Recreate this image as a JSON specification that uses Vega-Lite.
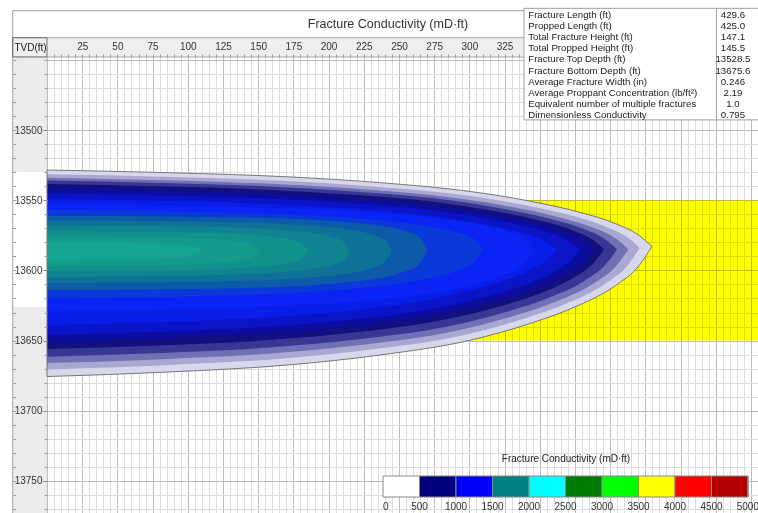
{
  "$schema": "https://vega.github.io/schema/vega-lite/v6.json",
  "width": 711,
  "height": 456,
  "autosize": {"type": "none"},
  "padding": {"left": 47, "top": 57, "right": 0, "bottom": 0},
  "background": "white",
  "config": {"view": {"stroke": null}, "font": "Liberation Sans"},
  "datasets": {
    "contours": [
      {"c":0,"x":0,"top":13528.5,"bottom":13675.6},{"c":0,"x":85.9,"top":13530.4,"bottom":13672.4},{"c":0,"x":171.8,"top":13533.4,"bottom":13667.3},{"c":0,"x":236.3,"top":13537.5,"bottom":13660.3},{"c":0,"x":300.7,"top":13543.8,"bottom":13649.7},{"c":0,"x":343.7,"top":13550.8,"bottom":13637.6},{"c":0,"x":378,"top":13558.5,"bottom":13624.7},{"c":0,"x":403.8,"top":13566.7,"bottom":13610.8},{"c":0,"x":421,"top":13575.4,"bottom":13596},{"c":0,"x":429.6,"top":13583,"bottom":13583},
      {"c":150,"x":0,"top":13531.5,"bottom":13670.5},{"c":150,"x":84.2,"top":13533.3,"bottom":13667.5},{"c":150,"x":168.4,"top":13536.2,"bottom":13662.7},{"c":150,"x":231.6,"top":13540.2,"bottom":13656.2},{"c":150,"x":294.7,"top":13546.2,"bottom":13646.3},{"c":150,"x":336.8,"top":13553,"bottom":13635},{"c":150,"x":370.5,"top":13560.4,"bottom":13622.9},{"c":150,"x":395.7,"top":13568.3,"bottom":13610},{"c":150,"x":412.6,"top":13576.7,"bottom":13596.1},{"c":150,"x":421,"top":13584,"bottom":13584},
      {"c":300,"x":0,"top":13534,"bottom":13666},{"c":300,"x":82.6,"top":13535.8,"bottom":13663.2},{"c":300,"x":165.2,"top":13538.6,"bottom":13658.7},{"c":300,"x":227.2,"top":13542.4,"bottom":13652.6},{"c":300,"x":289.1,"top":13548.3,"bottom":13643.3},{"c":300,"x":330.4,"top":13554.9,"bottom":13632.8},{"c":300,"x":363.4,"top":13562.1,"bottom":13621.5},{"c":300,"x":388.2,"top":13569.7,"bottom":13609.3},{"c":300,"x":404.7,"top":13577.9,"bottom":13596.3},{"c":300,"x":413,"top":13585,"bottom":13585},
      {"c":420,"x":0,"top":13536,"bottom":13661.5},{"c":420,"x":81,"top":13537.7,"bottom":13658.8},{"c":420,"x":162,"top":13540.4,"bottom":13654.6},{"c":420,"x":222.8,"top":13544.1,"bottom":13648.9},{"c":420,"x":283.5,"top":13549.7,"bottom":13640.1},{"c":420,"x":324,"top":13556.1,"bottom":13630.1},{"c":420,"x":356.4,"top":13563,"bottom":13619.4},{"c":420,"x":380.7,"top":13570.3,"bottom":13608},{"c":420,"x":396.9,"top":13578.1,"bottom":13595.7},{"c":420,"x":405,"top":13585,"bottom":13585},
      {"c":520,"x":0,"top":13538.5,"bottom":13656},{"c":520,"x":79.2,"top":13540.1,"bottom":13653.5},{"c":520,"x":158.4,"top":13542.7,"bottom":13649.6},{"c":520,"x":217.8,"top":13546.2,"bottom":13644.3},{"c":520,"x":277.2,"top":13551.5,"bottom":13636.1},{"c":520,"x":316.8,"top":13557.6,"bottom":13626.9},{"c":520,"x":348.5,"top":13564.1,"bottom":13617},{"c":520,"x":372.2,"top":13571.1,"bottom":13606.3},{"c":520,"x":388.1,"top":13578.5,"bottom":13594.9},{"c":520,"x":396,"top":13585,"bottom":13585},
      {"c":650,"x":0,"top":13541.5,"bottom":13651},{"c":650,"x":77.8,"top":13543,"bottom":13648.7},{"c":650,"x":155.6,"top":13545.4,"bottom":13645.1},{"c":650,"x":214,"top":13548.7,"bottom":13640.1},{"c":650,"x":272.3,"top":13553.7,"bottom":13632.5},{"c":650,"x":311.2,"top":13559.3,"bottom":13623.9},{"c":650,"x":342.3,"top":13565.4,"bottom":13614.7},{"c":650,"x":365.7,"top":13572,"bottom":13604.8},{"c":650,"x":381.2,"top":13578.9,"bottom":13594.2},{"c":650,"x":389,"top":13585,"bottom":13585},
      {"c":800,"x":0,"top":13545,"bottom":13646},{"c":800,"x":75.8,"top":13546.4,"bottom":13643.9},{"c":800,"x":151.6,"top":13548.6,"bottom":13640.5},{"c":800,"x":208.5,"top":13551.6,"bottom":13635.9},{"c":800,"x":265.3,"top":13556.2,"bottom":13628.9},{"c":800,"x":303.2,"top":13561.4,"bottom":13621},{"c":800,"x":333.5,"top":13567,"bottom":13612.5},{"c":800,"x":356.3,"top":13573,"bottom":13603.3},{"c":800,"x":371.4,"top":13579.4,"bottom":13593.5},{"c":800,"x":379,"top":13585,"bottom":13585},
      {"c":950,"x":0,"top":13549,"bottom":13639},{"c":950,"x":72.4,"top":13550.3,"bottom":13637.1},{"c":950,"x":144.8,"top":13552.2,"bottom":13634.1},{"c":950,"x":199.1,"top":13554.9,"bottom":13630.1},{"c":950,"x":253.4,"top":13559.1,"bottom":13623.9},{"c":950,"x":289.6,"top":13563.8,"bottom":13616.9},{"c":950,"x":318.6,"top":13568.8,"bottom":13609.3},{"c":950,"x":340.3,"top":13574.2,"bottom":13601.2},{"c":950,"x":354.8,"top":13580,"bottom":13592.6},{"c":950,"x":362,"top":13585,"bottom":13585},
      {"c":1080,"x":0,"top":13553,"bottom":13629},{"c":1080,"x":69,"top":13553.6,"bottom":13628.1},{"c":1080,"x":138,"top":13554.9,"bottom":13626.4},{"c":1080,"x":189.8,"top":13556.5,"bottom":13624.2},{"c":1080,"x":241.5,"top":13559.4,"bottom":13620.2},{"c":1080,"x":276,"top":13562.6,"bottom":13615.8},{"c":1080,"x":303.6,"top":13566.4,"bottom":13610.5},{"c":1080,"x":324.3,"top":13571.2,"bottom":13603.9},{"c":1080,"x":338.1,"top":13577,"bottom":13596},{"c":1080,"x":345,"top":13585,"bottom":13585},
      {"c":1200,"x":0,"top":13557,"bottom":13620},{"c":1200,"x":62,"top":13557.6,"bottom":13619.3},{"c":1200,"x":124,"top":13558.7,"bottom":13617.9},{"c":1200,"x":170.5,"top":13560.1,"bottom":13616.2},{"c":1200,"x":217,"top":13562.6,"bottom":13613},{"c":1200,"x":248,"top":13565.4,"bottom":13609.5},{"c":1200,"x":272.8,"top":13568.8,"bottom":13605.3},{"c":1200,"x":291.4,"top":13573,"bottom":13600.1},{"c":1200,"x":303.8,"top":13578,"bottom":13593.8},{"c":1200,"x":310,"top":13585,"bottom":13585},
      {"c":1300,"x":0,"top":13561,"bottom":13614},{"c":1300,"x":54,"top":13561.2,"bottom":13613.7},{"c":1300,"x":108,"top":13561.7,"bottom":13613.1},{"c":1300,"x":148.5,"top":13562.4,"bottom":13612.3},{"c":1300,"x":189,"top":13563.9,"bottom":13610.5},{"c":1300,"x":216,"top":13565.8,"bottom":13608.2},{"c":1300,"x":237.6,"top":13568.2,"bottom":13605.3},{"c":1300,"x":253.8,"top":13571.8,"bottom":13601},{"c":1300,"x":264.6,"top":13576.6,"bottom":13595.2},{"c":1300,"x":270,"top":13585,"bottom":13585},
      {"c":1400,"x":0,"top":13564.5,"bottom":13609},{"c":1400,"x":49,"top":13564.7,"bottom":13608.8},{"c":1400,"x":98,"top":13565.1,"bottom":13608.3},{"c":1400,"x":134.8,"top":13565.8,"bottom":13607.6},{"c":1400,"x":171.5,"top":13567.1,"bottom":13606.2},{"c":1400,"x":196,"top":13568.8,"bottom":13604.4},{"c":1400,"x":215.6,"top":13571,"bottom":13602.1},{"c":1400,"x":230.3,"top":13574.2,"bottom":13598.7},{"c":1400,"x":240.1,"top":13578.5,"bottom":13594.1},{"c":1400,"x":245,"top":13586,"bottom":13586},
      {"c":1500,"x":0,"top":13568,"bottom":13604.5},{"c":1500,"x":43,"top":13568.2,"bottom":13604.3},{"c":1500,"x":86,"top":13568.5,"bottom":13603.9},{"c":1500,"x":118.3,"top":13569.1,"bottom":13603.4},{"c":1500,"x":150.5,"top":13570.2,"bottom":13602.3},{"c":1500,"x":172,"top":13571.6,"bottom":13600.8},{"c":1500,"x":189.2,"top":13573.4,"bottom":13599},{"c":1500,"x":202.1,"top":13576.1,"bottom":13596.2},{"c":1500,"x":210.7,"top":13579.7,"bottom":13592.5},{"c":1500,"x":215,"top":13586,"bottom":13586},
      {"c":1600,"x":0,"top":13572,"bottom":13600.5},{"c":1600,"x":37,"top":13572.1,"bottom":13600.4},{"c":1600,"x":74,"top":13572.4,"bottom":13600.1},{"c":1600,"x":101.8,"top":13572.8,"bottom":13599.6},{"c":1600,"x":129.5,"top":13573.7,"bottom":13598.8},{"c":1600,"x":148,"top":13574.8,"bottom":13597.6},{"c":1600,"x":162.8,"top":13576.2,"bottom":13596.2},{"c":1600,"x":173.9,"top":13578.3,"bottom":13594},{"c":1600,"x":181.3,"top":13581.1,"bottom":13591.1},{"c":1600,"x":185,"top":13586,"bottom":13586},
      {"c":1700,"x":0,"top":13576,"bottom":13597},{"c":1700,"x":30,"top":13576.1,"bottom":13596.9},{"c":1700,"x":60,"top":13576.3,"bottom":13596.7},{"c":1700,"x":82.5,"top":13576.6,"bottom":13596.3},{"c":1700,"x":105,"top":13577.2,"bottom":13595.7},{"c":1700,"x":120,"top":13578,"bottom":13594.8},{"c":1700,"x":132,"top":13579,"bottom":13593.7},{"c":1700,"x":141,"top":13580.5,"bottom":13592.1},{"c":1700,"x":147,"top":13582.5,"bottom":13589.9},{"c":1700,"x":150,"top":13586,"bottom":13586},
      {"c":1780,"x":0,"top":13580,"bottom":13593},{"c":1780,"x":22,"top":13580.1,"bottom":13592.9},{"c":1780,"x":44,"top":13580.2,"bottom":13592.8},{"c":1780,"x":60.5,"top":13580.4,"bottom":13592.6},{"c":1780,"x":77,"top":13580.7,"bottom":13592.2},{"c":1780,"x":88,"top":13581.2,"bottom":13591.6},{"c":1780,"x":96.8,"top":13581.8,"bottom":13590.9},{"c":1780,"x":103.4,"top":13582.7,"bottom":13589.9},{"c":1780,"x":107.8,"top":13583.9,"bottom":13588.5},{"c":1780,"x":110,"top":13586,"bottom":13586}
    ],
    "stats": [
      {"row": 1, "item": "Fracture Length (ft)", "value": "429.6"},
      {"row": 2, "item": "Propped Length (ft)", "value": "425.0"},
      {"row": 3, "item": "Total Fracture Height (ft)", "value": "147.1"},
      {"row": 4, "item": "Total Propped Height (ft)", "value": "145.5"},
      {"row": 5, "item": "Fracture Top Depth (ft)", "value": "13528.5"},
      {"row": 6, "item": "Fracture Bottom Depth (ft)", "value": "13675.6"},
      {"row": 7, "item": "Average Fracture Width (in)", "value": "0.246"},
      {"row": 8, "item": "Average Proppant Concentration (lb/ft²)", "value": "2.19"},
      {"row": 9, "item": "Equivalent number of multiple fractures", "value": "1.0"},
      {"row": 10, "item": "Dimensionless Conductivity", "value": "0.795"}
    ]
  },
  "resolve": {"scale": {"y": "independent"}, "axis": {"x": "independent", "y": "independent"}},
  "layer": [
    {
      "resolve": {"axis": {"x": "independent", "y": "independent"}},
      "layer": [
        {
          "data": {"values": [{}]},
          "mark": {"type": "rect", "fill": "#efefef", "stroke": "#a8a8a8", "strokeWidth": 1},
          "encoding": {
            "x": {"datum": -24.36, "type": "quantitative", "scale": {"domain": [0, 505], "nice": false, "zero": false},
              "axis": {"orient": "top", "tickCount": 101, "grid": true, "gridColor": "#dddddd", "labels": false, "ticks": false, "domain": false, "title": null, "zindex": 0}},
            "x2": {"datum": 510},
            "y": {"datum": 13434.25, "type": "quantitative", "scale": {"domain": [13448, 13772.8], "reverse": true, "nice": false, "zero": false},
              "axis": {"orient": "left", "tickCount": 33, "grid": true, "gridColor": "#dddddd", "labels": false, "ticks": false, "domain": false, "title": null, "zindex": 0}},
            "y2": {"datum": 13448}
          }
        },
        {
          "data": {"values": [{}]},
          "mark": {"type": "rect", "fill": "#ececec"},
          "encoding": {
            "x": {"datum": -24.36, "type": "quantitative",
              "axis": {"orient": "top", "values": [0,25,50,75,100,125,150,175,200,225,250,275,300,325,350,375,400,425,450,475,500], "grid": true, "gridColor": "#bcbcbc", "labels": false, "ticks": false, "domain": false, "title": null, "zindex": 0}},
            "x2": {"datum": 0},
            "y": {"datum": 13448, "type": "quantitative",
              "axis": {"orient": "left", "values": [13450,13500,13550,13600,13650,13700,13750], "grid": true, "gridColor": "#bcbcbc", "labels": false, "ticks": false, "domain": false, "title": null, "zindex": 0}},
            "y2": {"datum": 13780}
          }
        },
        {
          "data": {"values": [{}]},
          "mark": {"type": "rect", "fill": "#ffffff"},
          "encoding": {
            "x": {"datum": -24.36, "type": "quantitative",
              "axis": {"orient": "top", "values": [5,10,15,20,25,30,35,40,45,50,55,60,65,70,75,80,85,90,95,100,105,110,115,120,125,130,135,140,145,150,155,160,165,170,175,180,185,190,195,200,205,210,215,220,225,230,235,240,245,250,255,260,265,270,275,280,285,290,295,300,305,310,315,320,325,330,335], "grid": false, "labels": false, "ticks": true, "tickSize": 3, "tickColor": "#999999", "domain": false, "title": null, "zindex": 1}},
            "x2": {"datum": 0},
            "y": {"datum": 13530, "type": "quantitative",
              "axis": {"orient": "left", "tickCount": 33, "grid": false, "labels": false, "ticks": true, "tickSize": 3, "tickColor": "#999999", "domain": false, "title": null, "zindex": 1}},
            "y2": {"datum": 13626}
          }
        },
        {
          "data": {"values": [{}]},
          "mark": {"type": "rect", "fill": "transparent", "stroke": "#a0a0a0", "strokeWidth": 1},
          "encoding": {
            "x": {"datum": -24.36, "type": "quantitative",
              "axis": {"orient": "top", "values": [25,50,75,100,125,150,175,200,225,250,275,300,325], "grid": false, "ticks": false, "domain": false, "labelPadding": 6, "labelFont": "Liberation Sans", "labelFontSize": 10, "labelColor": "#333333", "format": "d", "title": null, "zindex": 1}},
            "x2": {"datum": 520},
            "y": {"datum": 13415.0, "type": "quantitative",
              "axis": {"orient": "left", "values": [13500,13550,13600,13650,13700,13750], "format": "d", "grid": false, "ticks": true, "tickSize": 4, "tickColor": "#888888", "domain": false, "labelPadding": 1, "labelFont": "Liberation Sans", "labelFontSize": 10, "labelColor": "#333333",
                "title": "TVD(ft)", "titleAngle": 0, "titleX": -17, "titleY": -10, "titleAlign": "center", "titleBaseline": "middle", "titleFont": "Liberation Sans", "titleFontSize": 10, "titleFontWeight": "normal", "titleColor": "#222222", "zindex": 1}},
            "y2": {"datum": 13790}
          }
        },
        {
          "data": {"values": [{}]},
          "mark": {"type": "rect", "fill": "transparent", "stroke": "#707070", "strokeWidth": 1},
          "encoding": {
            "x": {"datum": -24.36, "type": "quantitative", "axis": null},
            "x2": {"datum": 0},
            "y": {"datum": 13434.25, "type": "quantitative",
              "axis": {"orient": "left", "offset": 34.3, "tickCount": 33, "grid": false, "labels": false, "ticks": true, "tickSize": -3, "tickColor": "#999999", "domain": false, "title": null, "zindex": 1}},
            "y2": {"datum": 13448}
          }
        },
        {
          "data": {"values": [{"start": 0, "end": 505, "top": 13550, "bottom": 13650, "cond": 3750}]},
          "mark": {"type": "rect", "blend": "multiply"},
          "encoding": {
            "x": {"field": "start", "type": "quantitative", "axis": null},
            "x2": {"field": "end"},
            "y": {"field": "top", "type": "quantitative", "axis": null},
            "y2": {"field": "bottom"},
            "color": {"field": "cond", "type": "quantitative",
              "scale": {"type": "quantize", "domain": [0, 5000], "nice": false, "zero": false, "range": ["#ffffff", "#00007e", "#0000ff", "#008080", "#00ffff", "#007c00", "#00ff00", "#ffff00", "#ff0000", "#b40000"]},
              "legend": {"type": "gradient", "title": "Fracture Conductivity (mD·ft)", "orient": "none", "legendX": 336, "legendY": 397, "direction": "horizontal", "gradientLength": 365, "gradientThickness": 21, "titleAnchor": "middle", "titleFont": "Liberation Sans", "titleFontSize": 10, "titleFontWeight": "normal", "titleColor": "#222222", "titlePadding": 12, "labelFont": "Liberation Sans", "labelFontSize": 10, "labelColor": "#333333", "labelOffset": 5, "values": [2,500,1000,1500,2000,2500,3000,3500,4000,4500,4998], "labelExpr": "datum.value < 100 ? '0' : datum.value > 4900 ? '5000' : format(datum.value, 'd')", "labelOverlap": false, "gradientStrokeColor": "#888888", "gradientStrokeWidth": 1, "zindex": 1}}
          }
        },
        {
          "data": {"name": "contours"},
          "mark": {"type": "area", "interpolate": "monotone"},
          "encoding": {
            "x": {"field": "x", "type": "quantitative", "axis": null},
            "y": {"field": "top", "type": "quantitative", "axis": null, "stack": null},
            "y2": {"field": "bottom"},
            "fill": {"field": "c", "type": "ordinal", "legend": null,
              "scale": {"domain": [0,150,300,420,520,650,800,950,1080,1200,1300,1400,1500,1600,1700,1780],
                "range": ["#d8d8ec","#a8a8d2","#7070b4","#383894","#10107e","#0c0c9e","#0a14c8","#0a1eea","#0a24f6","#0b38d8","#0c5aa8","#0d7296","#0f8490","#11928d","#139c8c","#15a48d"]}},
            "detail": {"field": "c", "type": "ordinal"}
          }
        },
        {
          "data": {"name": "contours"},
          "transform": [{"filter": "datum.c == 0"}],
          "mark": {"type": "area", "interpolate": "monotone", "fillOpacity": 0, "fill": "white", "stroke": "#777777", "strokeWidth": 1},
          "encoding": {
            "x": {"field": "x", "type": "quantitative", "axis": null},
            "y": {"field": "top", "type": "quantitative", "axis": null, "stack": null},
            "y2": {"field": "bottom"}
          }
        },
        {
          "data": {"values": [{"title": "Fracture Conductivity (mD·ft)"}]},
          "mark": {"type": "text", "align": "center", "baseline": "middle", "font": "Liberation Sans", "fontSize": 12.5, "color": "#333333"},
          "encoding": {
            "x": {"datum": 242.2, "type": "quantitative", "axis": null},
            "y": {"datum": 13424.5, "type": "quantitative", "axis": null},
            "text": {"field": "title"}
          }
        }
      ]
    },
    {
      "data": {"name": "stats"},
      "layer": [
        {
          "data": {"values": [{}]},
          "mark": {"type": "rect", "fill": "#ffffff", "stroke": "#a0a0a0", "strokeWidth": 1},
          "encoding": {
            "x": {"datum": 338.8, "type": "quantitative", "axis": null},
            "x2": {"datum": 515},
            "y": {"datum": 0.4, "type": "quantitative", "axis": null, "scale": {"domain": [0, 10], "range": [-53.1, 57.9], "nice": false, "zero": false}},
            "y2": {"datum": 10.45}
          }
        },
        {
          "data": {"values": [{}]},
          "mark": {"type": "rule", "stroke": "#a0a0a0", "strokeWidth": 1},
          "encoding": {
            "x": {"datum": 475.5, "type": "quantitative", "axis": null},
            "y": {"datum": 0.4, "type": "quantitative", "axis": null},
            "y2": {"datum": 10.45}
          }
        },
        {
          "mark": {"type": "text", "align": "left", "baseline": "middle", "font": "Liberation Sans", "fontSize": 9.7, "color": "#222222"},
          "encoding": {
            "x": {"datum": 341.8, "type": "quantitative", "axis": null},
            "y": {"field": "row", "type": "quantitative", "axis": null},
            "text": {"field": "item"}
          }
        },
        {
          "mark": {"type": "text", "align": "center", "baseline": "middle", "font": "Liberation Sans", "fontSize": 9.7, "color": "#222222"},
          "encoding": {
            "x": {"datum": 487.2, "type": "quantitative", "axis": null},
            "y": {"field": "row", "type": "quantitative", "axis": null},
            "text": {"field": "value"}
          }
        }
      ]
    }
  ]
}
